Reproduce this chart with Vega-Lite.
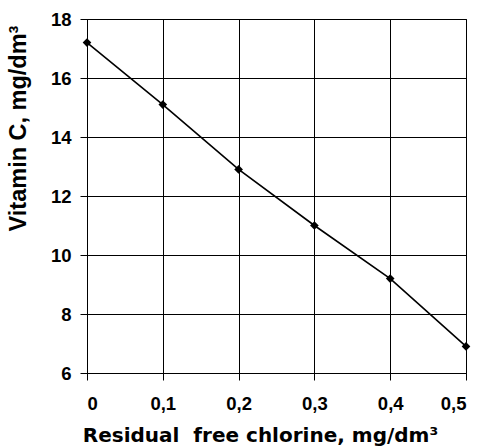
{
  "$schema": "https://vega.github.io/schema/vega-lite/v6.json",
  "width": 379,
  "height": 354,
  "autosize": {"type": "none"},
  "padding": {"left": 87, "top": 19, "right": 17, "bottom": 74},
  "background": "white",
  "config": {
    "view": {"stroke": "black", "strokeWidth": 1},
    "axis": {
      "grid": true,
      "gridColor": "black",
      "gridOpacity": 1,
      "gridWidth": 1,
      "domainColor": "black",
      "domainWidth": 1,
      "tickColor": "black",
      "tickSize": 7,
      "tickWidth": 1,
      "labelFont": "Liberation Sans",
      "labelFontWeight": "bold",
      "labelFontSize": 18.5,
      "labelColor": "black",
      "titleColor": "black",
      "titleFontWeight": "bold"
    }
  },
  "data": {
    "values": [
      {"chlorine": 0.0, "vitc": 17.2},
      {"chlorine": 0.1, "vitc": 15.1},
      {"chlorine": 0.2, "vitc": 12.9},
      {"chlorine": 0.3, "vitc": 11.0},
      {"chlorine": 0.4, "vitc": 9.2},
      {"chlorine": 0.5, "vitc": 6.9}
    ]
  },
  "encoding": {
    "x": {
      "field": "chlorine",
      "type": "quantitative",
      "scale": {"domain": [0, 0.5], "nice": false, "zero": false},
      "axis": {
        "values": [0, 0.1, 0.2, 0.3, 0.4, 0.5],
        "labelExpr": "datum.value == 0 ? '0' : replace(format(datum.value, '.1f'), '.', ',')",
        "labelPadding": 14,
        "labelBaseline": "top",
        "title": "Residual\u00a0 free chlorine, mg/dm³",
        "titleFont": "DejaVu Sans",
        "titleFontSize": 20,
        "titleX": 173,
        "titleY": 68.5,
        "titleBaseline": "alphabetic",
        "titleAnchor": "middle",
        "titleAlign": "center"
      }
    },
    "y": {
      "field": "vitc",
      "type": "quantitative",
      "scale": {"domain": [6, 18], "nice": false, "zero": false},
      "axis": {
        "values": [6, 8, 10, 12, 14, 16, 18],
        "labelPadding": 9,
        "title": "Vitamin C, mg/dm³",
        "titleFont": "Liberation Sans",
        "titleFontSize": 23.5,
        "titleX": -69,
        "titleY": 109,
        "titleAngle": -90,
        "titleBaseline": "middle",
        "titleAlign": "center"
      }
    }
  },
  "layer": [
    {"mark": {"type": "line", "color": "black", "strokeWidth": 1.6}},
    {"mark": {"type": "point", "shape": "diamond", "filled": true, "color": "black", "opacity": 1, "size": 75}}
  ]
}
